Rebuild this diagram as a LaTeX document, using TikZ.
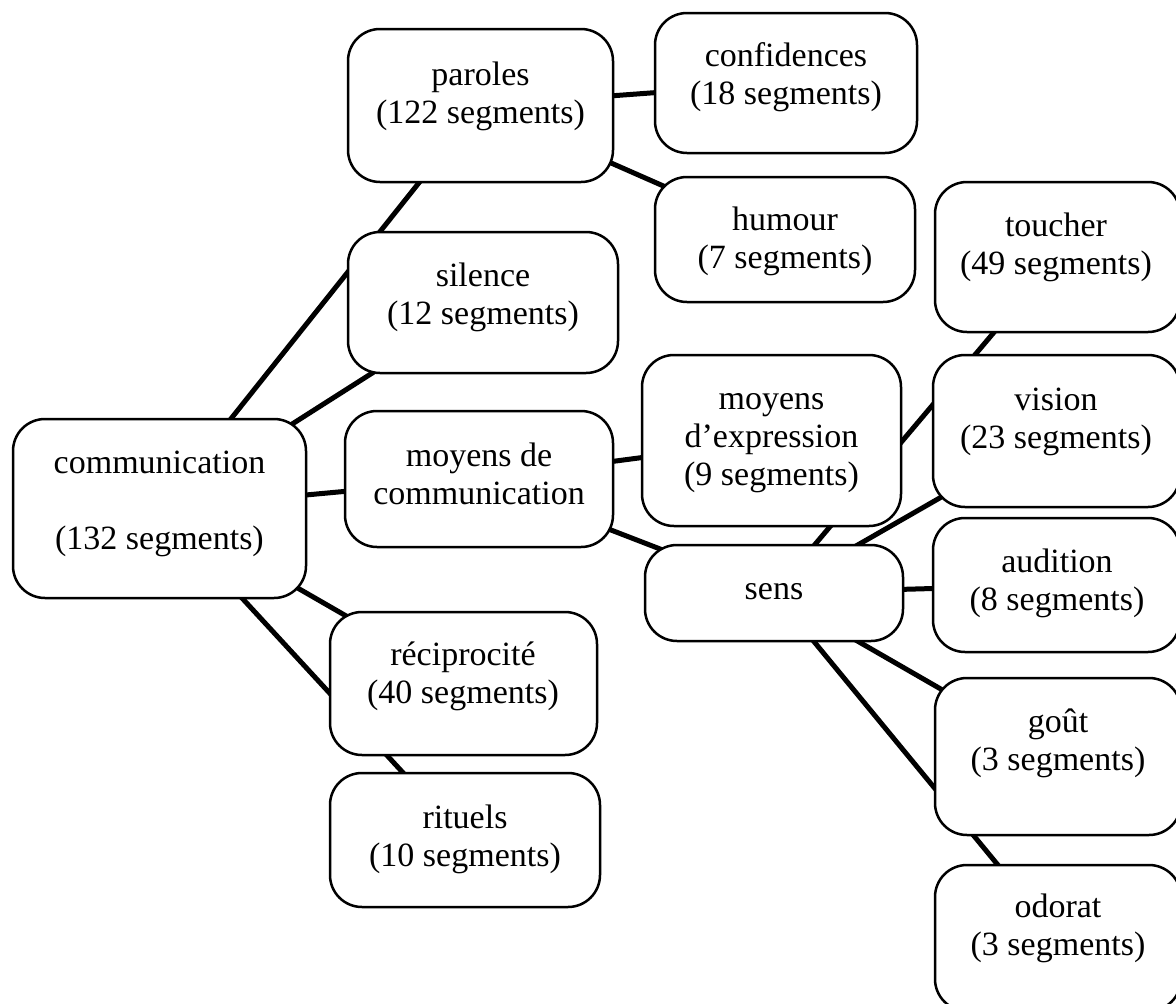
\documentclass[tikz,border=0pt]{standalone}
\usepackage{fontspec}
\setmainfont{Liberation Serif}
\usetikzlibrary{backgrounds}
\begin{document}
\begin{tikzpicture}[x=1pt,y=-1pt,
  box/.style={draw=black, line width=2.5pt, fill=white, rounded corners=32pt, inner sep=0pt},
  lbl/.style={inner sep=0pt, align=center, font=\fontsize{34}{38}\selectfont},
  link/.style={draw=black, line width=5pt}]
\useasboundingbox (0,0) rectangle (1176,1004);

% boxes
\node[box, minimum width=293pt, minimum height=179pt] (comm)     at (159.5,508.5) {};
\node[box, minimum width=265pt, minimum height=153pt] (paroles)  at (480.5,105.5) {};
\node[box, minimum width=262pt, minimum height=140pt] (confid)   at (786,83) {};
\node[box, minimum width=260pt, minimum height=125pt] (humour)   at (785,239.5) {};
\node[box, minimum width=270pt, minimum height=141pt] (silence)  at (483,302.5) {};
\node[box, minimum width=268pt, minimum height=136pt] (mdc)      at (479,479) {};
\node[box, minimum width=259pt, minimum height=171pt] (mde)      at (771.5,440.5) {};
\node[box, minimum width=258pt, minimum height=96pt]  (sens)     at (774,593) {};
\node[box, minimum width=245pt, minimum height=150pt] (toucher)  at (1057.5,257) {};
\node[box, minimum width=247pt, minimum height=152pt] (vision)   at (1056.5,431) {};
\node[box, minimum width=247pt, minimum height=134pt] (audition) at (1056.5,585) {};
\node[box, minimum width=246pt, minimum height=157pt] (gout)     at (1058,756.5) {};
\node[box, minimum width=246pt, minimum height=146pt] (odorat)   at (1058,938) {};
\node[box, minimum width=267pt, minimum height=143pt] (recip)    at (463.5,683.5) {};
\node[box, minimum width=270pt, minimum height=134pt] (rituels)  at (465,840) {};

% texts
\node[lbl] (comm-t)     at (159.5,504) {\strut communication\\\strut\\\strut(132 segments)};
\node[lbl] (paroles-t)  at (480.5,97)  {\strut paroles\\\strut(122 segments)};
\node[lbl] (confid-t)   at (786,77.5)  {\strut confidences\\\strut(18 segments)};
\node[lbl] (humour-t)   at (785,242)   {\strut humour\\\strut(7 segments)};
\node[lbl] (silence-t)  at (483,298)   {\strut silence\\\strut(12 segments)};
\node[lbl] (mdc-t)      at (479,477.5) {\strut moyens de\\\strut communication};
\node[lbl] (mde-t)      at (771.5,440) {\strut moyens\\\strut d’expression\\\strut(9 segments)};
\node[lbl] (sens-t)     at (774,592)   {\strut sens};
\node[lbl] (toucher-t)  at (1056,247.5) {\strut toucher\\\strut(49 segments)};
\node[lbl] (vision-t)   at (1056,421.5) {\strut vision\\\strut(23 segments)};
\node[lbl] (audition-t) at (1057,584)  {\strut audition\\\strut(8 segments)};
\node[lbl] (gout-t)     at (1058,744)  {\strut goût\\\strut(3 segments)};
\node[lbl] (odorat-t)   at (1058,929)  {\strut odorat\\\strut(3 segments)};
\node[lbl] (recip-t)    at (463,677)   {\strut réciprocité\\\strut(40 segments)};
\node[lbl] (rituels-t)  at (465,840)   {\strut rituels\\\strut(10 segments)};

% connectors, centre to centre, hidden behind the filled boxes
\begin{scope}[on background layer]
  \draw[link] (comm.center) -- (paroles.center);
  \draw[link] (comm.center) -- (silence.center);
  \draw[link] (comm.center) -- (mdc.center);
  \draw[link] (comm.center) -- (recip.center);
  \draw[link] (comm.center) -- (rituels.center);
  \draw[link] (paroles.center) -- (confid.center);
  \draw[link] (paroles.center) -- (humour.center);
  \draw[link] (mdc.center) -- (mde.center);
  \draw[link] (mdc.center) -- (sens.center);
  \draw[link] (sens.center) -- (toucher.center);
  \draw[link] (sens.center) -- (vision.center);
  \draw[link] (sens.center) -- (audition.center);
  \draw[link] (sens.center) -- (gout.center);
  \draw[link] (sens.center) -- (odorat.center);
\end{scope}
\end{tikzpicture}
\end{document}
